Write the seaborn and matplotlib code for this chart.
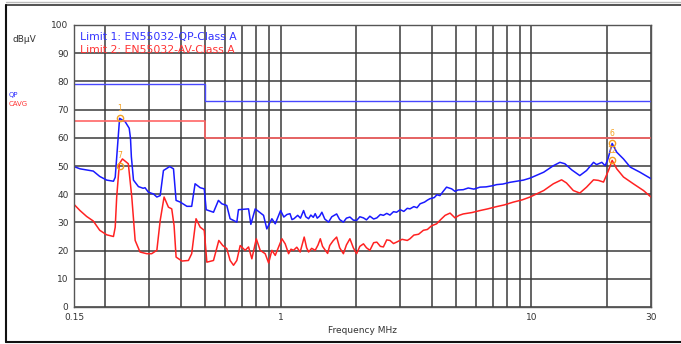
import numpy as np
import pandas as pd
import seaborn as sns
import matplotlib.pyplot as plt
from matplotlib.lines import Line2D
from matplotlib.ticker import FixedLocator, NullFormatter

# QP trace (blue) - frequency in MHz, level in dBuV
qp_freq = [0.150, 0.1585, 0.1685, 0.179, 0.190, 0.2025, 0.2155, 0.219, 0.223, 0.228,
           0.240, 0.249, 0.252, 0.254, 0.259, 0.271, 0.283, 0.288, 0.297, 0.311,
           0.321, 0.331, 0.341, 0.361, 0.374, 0.383, 0.398, 0.423, 0.442, 0.456,
           0.478, 0.496, 0.505, 0.540, 0.565, 0.583, 0.610, 0.629, 0.669, 0.679,
           0.745, 0.761, 0.792, 0.855, 0.881, 0.923, 0.952,
           1.00, 1.03, 1.06, 1.09, 1.11, 1.13, 1.17, 1.20, 1.235, 1.26,
           1.293, 1.32, 1.35, 1.374, 1.40, 1.43, 1.461, 1.50, 1.553, 1.60,
           1.673, 1.72, 1.78, 1.83, 1.89, 1.95, 2.01, 2.07, 2.14, 2.20,
           2.27, 2.35, 2.42, 2.50, 2.57, 2.65, 2.73, 2.82, 2.90, 3.00,
           3.10, 3.20, 3.28, 3.40, 3.50, 3.60, 3.75, 3.85, 3.94, 4.10,
           4.20, 4.32, 4.45, 4.59, 4.70, 4.81, 4.96, 5.10, 5.35, 5.60,
           5.90, 6.24, 6.60, 7.00, 7.27, 7.70, 8.20, 8.74, 9.30, 9.88,
           11.2, 12.24, 13.0, 13.6, 14.5, 15.6, 16.6, 17.7, 18.2, 19.1,
           19.7, 20.2, 21.0, 21.9, 23.3, 24.8, 27.1, 30.0]
qp_level = [49.8, 49.0, 48.6, 48.2, 46.3, 45.0, 44.6, 46.0, 55.5, 66.9,
            65.7, 63.4, 59.8, 53.3, 45.0, 42.7, 42.1, 42.3, 40.7, 40.1,
            39.0, 39.5, 48.4, 49.8, 49.0, 37.8, 37.2, 35.7, 35.7, 43.7,
            42.3, 41.9, 34.5, 33.6, 37.8, 36.6, 36.0, 31.3, 30.1, 34.5,
            34.8, 29.3, 34.8, 32.5, 27.7, 31.3, 29.5,
            34.2, 31.9, 32.8, 33.1, 31.0, 31.3, 32.5, 31.5, 34.2, 32.0,
            31.3, 32.6, 31.8, 33.1, 31.5, 32.2, 33.6, 31.2, 30.1, 32.0,
            33.0, 31.0, 30.1, 31.5, 31.9, 30.8, 30.7, 32.0, 31.6, 30.9,
            32.2, 31.2, 31.6, 32.8, 32.5, 33.2, 32.6, 33.8, 33.6, 34.5,
            33.9, 35.0, 34.8, 35.6, 35.2, 36.6, 37.2, 37.9, 38.4, 38.8,
            39.8, 39.5, 41.0, 42.5, 42.2, 41.9, 41.0, 41.5, 41.6, 42.2,
            41.8, 42.5, 42.6, 43.0, 43.4, 43.6, 44.2, 44.6, 45.0, 45.7,
            47.8, 50.1, 51.3, 50.8, 48.6, 46.6, 48.4, 51.3, 50.5, 51.3,
            50.1, 52.5, 58.0, 54.9, 52.5, 49.6, 47.8, 45.5]

# CAVG trace (red)
av_freq = [0.150, 0.1585, 0.1685, 0.179, 0.190, 0.2025, 0.2155, 0.219, 0.222, 0.2275,
           0.234, 0.247, 0.255, 0.263, 0.275, 0.2925, 0.306, 0.321, 0.331, 0.343,
           0.357, 0.368, 0.376, 0.383, 0.404, 0.429, 0.442, 0.460, 0.478, 0.496,
           0.508, 0.540, 0.567, 0.588, 0.610, 0.629, 0.649, 0.669, 0.690, 0.722,
           0.745, 0.768, 0.800, 0.829, 0.868, 0.896, 0.923, 0.952,
           1.012, 1.043, 1.076, 1.10, 1.126, 1.16, 1.197, 1.242, 1.27, 1.293,
           1.33, 1.374, 1.41, 1.44, 1.47, 1.508, 1.54, 1.57, 1.62, 1.673,
           1.72, 1.78, 1.83, 1.89, 1.95, 2.01, 2.07, 2.14, 2.20, 2.27,
           2.35, 2.42, 2.50, 2.57, 2.65, 2.73, 2.82, 2.90, 3.05, 3.20,
           3.28, 3.40, 3.55, 3.71, 3.85, 4.00, 4.19, 4.35, 4.53, 4.74,
           4.96, 5.15, 5.35, 5.80, 6.24, 6.70, 7.27, 7.80, 8.48, 9.20,
           9.88, 11.2, 12.24, 13.2, 13.8, 14.7, 15.6, 16.6, 17.7, 18.5,
           19.4, 20.3, 21.0, 21.9, 23.3, 25.5, 28.0, 30.0]
av_level = [36.4, 34.2, 32.1, 30.5, 27.2, 25.6, 25.0, 28.3, 39.0, 50.8,
            52.5, 50.8, 39.0, 23.6, 19.5, 18.9, 18.9, 20.1, 30.7, 39.0,
            35.4, 34.8, 28.9, 17.7, 16.3, 16.5, 18.9, 31.3, 28.3, 27.2,
            15.9, 16.5, 23.6, 21.8, 20.7, 16.5, 14.8, 16.5, 21.8, 20.1,
            21.3, 17.1, 24.2, 20.1, 18.9, 15.6, 20.1, 18.3,
            24.2, 22.4, 18.9, 20.5, 20.1, 21.2, 19.5, 24.8, 21.0, 19.5,
            20.8, 20.1, 22.0, 24.2, 21.5, 20.1, 19.0, 21.8, 23.5, 24.8,
            21.0, 18.9, 22.0, 24.2, 21.0, 18.9, 21.5, 22.4, 21.0, 20.1,
            22.8, 23.0, 21.5, 21.3, 23.8, 23.6, 22.5, 23.0, 24.0, 23.6,
            24.2, 25.5, 25.8, 27.2, 27.5, 28.8, 29.5, 31.0, 32.5, 33.3,
            31.6, 32.5, 33.0, 33.5, 34.2, 34.8, 35.6, 36.2, 37.2, 38.0,
            39.0, 41.3, 43.7, 45.1, 44.0, 41.3, 40.4, 42.5, 45.1, 44.9,
            44.3, 48.4, 52.0, 49.0, 46.1, 43.7, 41.3, 39.0]

# limit lines
lim_freq = [0.15, 0.5, 0.5, 30]
lim_qp = [79, 79, 73, 73]
lim_av = [66, 66, 60, 60]

# final measurement markers
mk_qp_freq = [0.228, 21.0]
mk_qp_level = [66.9, 58.0]
mk_qp_label = ["1", "6"]
mk_av_freq = [0.228, 21.0]
mk_av_level = [50.0, 52.0]
mk_av_label = ["7", "12"]

sns.set_theme(style="white")
plt.rcParams["font.family"] = ["DejaVu Sans"]

W, H = 681, 344
fig = plt.figure(figsize=(W / 100, H / 100), dpi=100)
ax = fig.add_axes([74 / W, 1 - 307 / H, (651 - 74) / W, (307 - 25) / H])

qp = pd.DataFrame({"f": qp_freq, "v": qp_level})
av = pd.DataFrame({"f": av_freq, "v": av_level})

sns.lineplot(data=qp, x="f", y="v", ax=ax, color="#1a1aff", lw=1.1, sort=False, estimator=None)
sns.lineplot(data=av, x="f", y="v", ax=ax, color="#ff2222", lw=1.1, sort=False, estimator=None)
ax.plot(lim_freq, lim_qp, color="#4848ff", lw=1.0)
ax.plot(lim_freq, lim_av, color="#ff6666", lw=1.2)

mk_col = "#f5a020"
for f, v, t in zip(mk_qp_freq + mk_av_freq, mk_qp_level + mk_av_level, mk_qp_label + mk_av_label):
    ax.plot(f, v, "o", mfc="none", mec=mk_col, ms=4.5, mew=1.0)
    ax.text(f, v + 2.0, t, color=mk_col, fontsize=5.5, ha="center", va="bottom")

ax.set_xscale("log")
ax.set_xlim(0.15, 30)
ax.set_ylim(0, 100)
ax.xaxis.set_major_locator(FixedLocator([0.15, 1, 10, 30]))
ax.xaxis.set_minor_locator(FixedLocator([0.2, 0.3, 0.4, 0.5, 0.6, 0.7, 0.8, 0.9,
                                         2, 3, 4, 5, 6, 7, 8, 9, 20]))
ax.xaxis.set_minor_formatter(NullFormatter())
ax.set_xticklabels(["0.15", "1", "10", "30"])
ax.set_yticks(range(0, 101, 10))
ax.grid(True, which="both", color="#3a3a3a", lw=1.1)
ax.set_axisbelow(True)
ax.tick_params(which="both", length=0, labelsize=6.5, colors="#333333", pad=4)
for s in ax.spines.values():
    s.set_color("#555555")
    s.set_linewidth(1.0)
ax.set_xlabel("Frequency MHz", fontsize=6.5, color="#333333", labelpad=3)
ax.set_ylabel("")

ax.text(0.01, 0.975, "Limit 1: EN55032-QP-Class A", transform=ax.transAxes,
        color="#3333ff", fontsize=7.8, va="top", ha="left")
ax.text(0.01, 0.93, "Limit 2: EN55032-AV-Class A", transform=ax.transAxes,
        color="#ff3333", fontsize=7.8, va="top", ha="left")

fig.text(12 / W, 1 - 40 / H, "dBµV", fontsize=6.5, color="#333333", va="center")
fig.text(9 / W, 1 - 95 / H, "QP", fontsize=5, color="#3333ff", va="center")
fig.text(9 / W, 1 - 104 / H, "CAVG", fontsize=5, color="#ff3333", va="center")

# outer frame
fig.add_artist(Line2D([6 / W, 1], [1 - 2 / H, 1 - 2 / H], transform=fig.transFigure, color="#bbbbbb", lw=1.0))
fig.add_artist(Line2D([6 / W, 1], [1 - 4.5 / H, 1 - 4.5 / H], transform=fig.transFigure, color="#444444", lw=1.3))
fig.add_artist(Line2D([6 / W, 6 / W], [1 - 4.5 / H, 1 - 342 / H], transform=fig.transFigure, color="#111111", lw=1.5))
fig.add_artist(Line2D([6 / W, 1], [1 - 342 / H, 1 - 342 / H], transform=fig.transFigure, color="#111111", lw=1.5))

fig.savefig("out.png", dpi=100)
